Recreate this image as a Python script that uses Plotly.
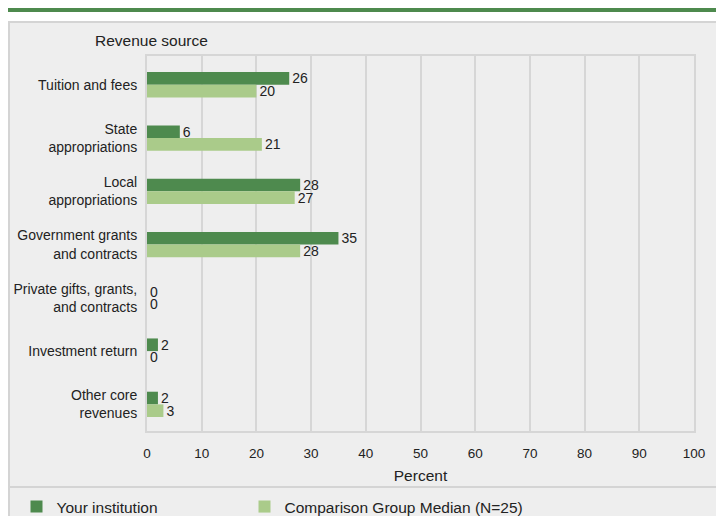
import plotly.graph_objects as go

categories = ["Tuition and fees", "State<br>appropriations", "Local<br>appropriations",
              "Government grants<br>and contracts", "Private gifts, grants,<br>and contracts",
              "Investment return", "Other core<br>revenues"]
your_institution = [26, 6, 28, 35, 0, 2, 2]
comparison_median = [20, 21, 27, 28, 0, 0, 3]
x_ticks = [0, 10, 20, 30, 40, 50, 60, 70, 80, 90, 100]

DARK = "#4e8a4e"
LIGHT = "#aacb8a"
GRID = "#d6d6d6"
FONT = "Liberation Sans, Arial, sans-serif"
TXT = "#222222"

W, H = 724, 516
L, R, T, B = 139, 38, 48, 93
PW = W - L - R
PH = H - T - B

def px(x):
    return (x - L) / PW

def py(y):
    return (H - B - y) / PH

fig = go.Figure()
fig.add_trace(go.Bar(
    y=categories, x=your_institution, orientation="h", name="Your institution",
    marker=dict(color=DARK, line=dict(width=0)), legend="legend",
    text=[str(v) for v in your_institution], textposition="outside", constraintext="none",
    textfont=dict(size=14, color=TXT, family=FONT), cliponaxis=False,
))
fig.add_trace(go.Bar(
    y=categories, x=comparison_median, orientation="h", name="Comparison Group Median (N=25)",
    marker=dict(color=LIGHT, line=dict(width=0)), legend="legend2",
    text=[str(v) for v in comparison_median], textposition="outside", constraintext="none",
    textfont=dict(size=14, color=TXT, family=FONT), cliponaxis=False,
))

shapes = [
    dict(type="rect", xref="paper", yref="paper", x0=px(1), x1=px(740), y0=py(14), y1=py(530),
         fillcolor="#eeeeee", line=dict(color="#d4d4d4", width=2), layer="below"),
    dict(type="line", xref="paper", yref="paper", x0=px(0), x1=px(740), y0=py(1.5), y1=py(1.5),
         line=dict(color=DARK, width=5)),
    dict(type="line", xref="paper", yref="paper", x0=px(1), x1=px(740), y0=py(479), y1=py(479),
         line=dict(color="#d4d4d4", width=2)),
]

legend_common = dict(orientation="h", xref="container", yref="container",
                     y=1 - 499 / H, xanchor="left", yanchor="middle",
                     font=dict(size=15.5, family=FONT, color=TXT),
                     bgcolor="rgba(0,0,0,0)", itemwidth=30)

fig.update_layout(
    width=W, height=H,
    margin=dict(l=L, r=R, t=T, b=B, pad=0, autoexpand=False),
    paper_bgcolor="white", plot_bgcolor="rgba(0,0,0,0)",
    font=dict(family=FONT, size=14, color=TXT),
    barmode="group", bargap=0.525, bargroupgap=0,
    shapes=shapes,
    showlegend=True,
    legend=dict(x=8.5 / W, **legend_common),
    legend2=dict(x=236.5 / W, **legend_common),
    annotations=[dict(text="Revenue source", xref="paper", yref="paper", x=px(85), y=py(33),
                      xanchor="left", yanchor="middle", showarrow=False,
                      font=dict(size=15.5, family=FONT, color=TXT))],
)
fig.update_xaxes(range=[0, 100], tickvals=x_ticks, showgrid=True, gridcolor=GRID, gridwidth=2,
                 zeroline=False, showline=True, linecolor=GRID, linewidth=2, mirror=True,
                 ticks="", tickfont=dict(size=13.5), ticklabelstandoff=9, automargin=False,
                 title=dict(text="Percent", font=dict(size=15.5), standoff=10), fixedrange=True)
fig.update_yaxes(range=[6.5, -0.54], showgrid=False, showline=True, linecolor=GRID, linewidth=2,
                 mirror=True, ticks="", tickfont=dict(size=14), ticklabelstandoff=5,
                 automargin=False)

fig.write_html("out.html")
